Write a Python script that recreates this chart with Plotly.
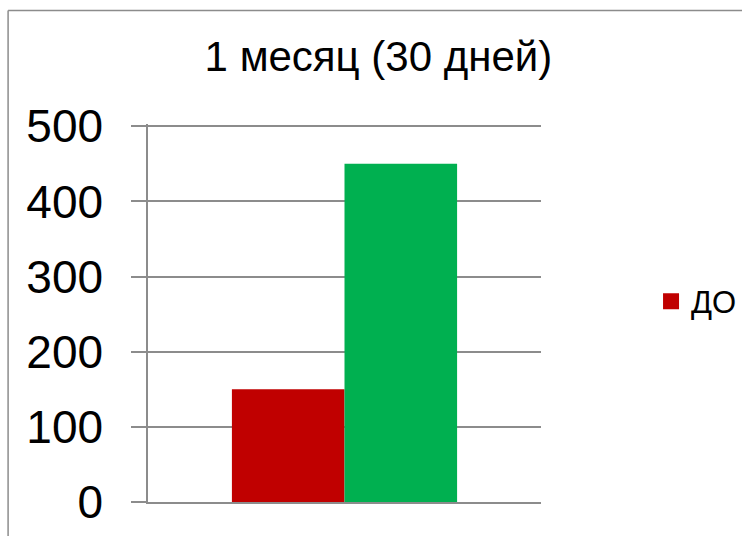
import plotly.graph_objects as go

categories = ["1 месяц (30 дней)"]
series_names = ["ДО", "ПОСЛЕ"]
values_do = [150]
values_posle = [450]
y_ticks = [0, 100, 200, 300, 400, 500]
title_text = "1 месяц (30 дней)"

RED = "#C00000"
GREEN = "#00B050"
GRAY = "#8c8c8c"
FONT = "Liberation Sans, Arial, sans-serif"

fig = go.Figure()
fig.add_trace(go.Bar(x=categories, y=values_do, name=series_names[0],
                     marker=dict(color=RED, line=dict(width=0)), showlegend=False))
fig.add_trace(go.Bar(x=categories, y=values_posle, name=series_names[1],
                     marker=dict(color=GREEN, line=dict(width=0)), showlegend=False))
# legend entry for ДО (larger square symbol)
fig.add_trace(go.Scatter(x=[None], y=[None], mode="markers", name=series_names[0],
                         marker=dict(symbol="square", size=16, color=RED),
                         showlegend=True, hoverinfo="skip"))

fig.update_layout(
    width=742, height=536,
    margin=dict(l=148, r=201, t=124, b=34, autoexpand=False),
    paper_bgcolor="white", plot_bgcolor="white",
    font=dict(family=FONT, color="black"),
    barmode="group", bargap=0.427, bargroupgap=0,
    title=dict(text=title_text, x=0.51, xanchor="center", y=0.895, yanchor="middle",
               font=dict(size=42, family=FONT, color="black")),
    legend=dict(x=1.28, xanchor="left", y=0.53, yanchor="middle",
                font=dict(size=31, family=FONT, color="black"),
                bgcolor="rgba(0,0,0,0)", itemwidth=30),
    showlegend=True,
)

fig.update_xaxes(showticklabels=False, showgrid=False, zeroline=False,
                 showline=True, linecolor=GRAY, linewidth=1.5, ticks="")
fig.update_yaxes(range=[0, 503], tickvals=y_ticks, ticktext=[str(v) for v in y_ticks],
                 showgrid=True, gridcolor=GRAY, gridwidth=1.5,
                 zeroline=False, showline=True, linecolor=GRAY, linewidth=1.5,
                 ticks="outside", ticklen=15, tickcolor=GRAY, tickwidth=1.5,
                 ticklabelstandoff=19,
                 tickfont=dict(size=46, family=FONT, color="black"))

# outer chart border (left and top edges visible; right/bottom run off-window)
fig.add_shape(type="line", xref="paper", yref="paper",
              x0=-0.356, x1=-0.356, y0=-0.5, y1=1.3, line=dict(color=GRAY, width=1.5))
fig.add_shape(type="line", xref="paper", yref="paper",
              x0=-0.356, x1=2.0, y0=1.3, y1=1.3, line=dict(color=GRAY, width=1.5))

fig.write_html("out.html")
